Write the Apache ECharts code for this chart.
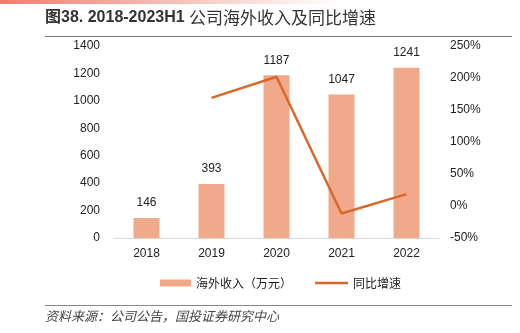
<!DOCTYPE html>
<html><head><meta charset="utf-8">
<script src="https://cdn.jsdelivr.net/npm/echarts@6/dist/echarts.min.js"></script>
<style>html,body{margin:0;padding:0;background:#fff}#c{width:520px;height:333px}</style>
</head><body><div id="c"></div>
<script>
const categories = ['2018','2019','2020','2021','2022'];
const revenue = [146, 393, 1187, 1047, 1241];
const growth = [null, 169, 202, -11.8, 18.5];
const leftTicks = [0, 1400, 200];
const rightTicks = [-50, 250, 50];

const chart = echarts.init(document.getElementById('c'));
const font = '"Liberation Sans", Arial, "Noto Sans CJK SC", sans-serif';
const legendText = {fontSize: 12, color:'#222', fontFamily:'"Noto Sans CJK SC", sans-serif'};
chart.setOption({
  animation: false,
  textStyle: {fontFamily: font},
  graphic: [
    {type:'rect', left:0, top:0, shape:{width:340, height:4},
     style:{fill:new echarts.graphic.LinearGradient(0,0,1,0,[{offset:0,color:'#EE7E6C'},{offset:1,color:'rgba(255,255,255,1)'}])}},
    {type:'text', left:45, top:9, style:{
      text:'{a|图38. 2018-2023H1 }{b|公司海外收入及同比增速}',
      rich:{
        a:{font:'bold 16px "Liberation Sans", "Noto Sans CJK SC", sans-serif', fill:'#333'},
        b:{font:'17px "Noto Sans CJK SC", sans-serif', fill:'#333'}
      }}},
    {type:'rect', left:45, top:36, shape:{width:467, height:1}, style:{fill:'#777'}},
    {type:'rect', left:45, top:305, shape:{width:467, height:1}, style:{fill:'#888'}},
    {type:'text', left:45, top:310, style:{text:'资料来源：公司公告，国投证券研究中心', font:'italic 13px "Noto Sans CJK SC", sans-serif', fill:'#444'}}
  ],
  grid: {left:114, right:81, top:46, bottom:95},
  legend: [
    {left:160, top:277, padding:0, itemWidth:31, itemHeight:7, itemGap:6,
     textStyle: legendText, data:[{name:'海外收入（万元）', icon:'rect'}]},
    {left:315, top:277, padding:0, itemWidth:33, itemHeight:2.5, itemGap:6,
     textStyle: legendText, data:[{name:'同比增速', icon:'rect'}]}
  ],
  xAxis: {
    type:'category', data: categories,
    axisLine:{lineStyle:{color:'#D9D9D9'}}, axisTick:{show:false},
    axisLabel:{color:'#222', fontSize:12, margin:10}
  },
  yAxis: [
    {type:'value', min:leftTicks[0], max:leftTicks[1], interval:leftTicks[2],
     splitLine:{show:false}, axisLine:{show:false}, axisTick:{show:false},
     axisLabel:{color:'#222', fontSize:12, margin:14, formatter:(v)=>String(v)}},
    {type:'value', min:rightTicks[0], max:rightTicks[1], interval:rightTicks[2],
     splitLine:{show:false}, axisLine:{show:false}, axisTick:{show:false},
     axisLabel:{color:'#222', fontSize:12, margin:11, formatter:'{value}%'}}
  ],
  series: [
    {name:'海外收入（万元）', type:'bar', data: revenue, barWidth: 26,
     itemStyle:{color:'#F0A98A'},
     label:{show:true, position:'top', distance:9, color:'#222', fontSize:12}},
    {name:'同比增速', type:'line', yAxisIndex:1, data: growth, symbol:'none',
     lineStyle:{color:'#D9692A', width:2.5}, itemStyle:{color:'#D9692A'}}
  ]
});
</script></body></html>
